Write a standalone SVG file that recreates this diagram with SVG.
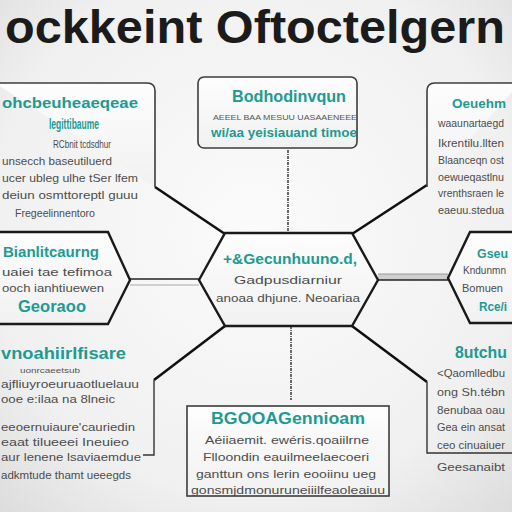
<svg xmlns="http://www.w3.org/2000/svg" width="512" height="512" viewBox="0 0 512 512">
<defs>
<radialGradient id="bg" cx="50%" cy="45%" r="75%">
<stop offset="0" stop-color="#fbfbfb"/>
<stop offset="0.7" stop-color="#f0f0f0"/>
<stop offset="1" stop-color="#dcdcdc"/>
</radialGradient>
<linearGradient id="boxfill" x1="0" y1="0" x2="0" y2="1">
<stop offset="0" stop-color="#fdfdfd"/>
<stop offset="1" stop-color="#f1f1f1"/>
</linearGradient>
</defs>
<style>
.title{font-family:"Liberation Sans",Arial,sans-serif;font-weight:bold;font-size:46px;fill:#1b1b1b}
.h{font-family:"Liberation Sans",Arial,sans-serif;font-weight:bold;fill:#1f9a93}
.b{font-family:"Liberation Sans",Arial,sans-serif;fill:#4d4d4d;font-size:11px}
.s{font-family:"Liberation Sans",Arial,sans-serif;fill:#555;font-size:8px}
.box{fill:url(#boxfill);stroke:#3c3c3c;stroke-width:1.6}
.hex{fill:url(#boxfill);stroke:#1a1a1a;stroke-width:2.4;stroke-linejoin:miter}
.edge{fill:none;stroke:#111;stroke-width:2.6}
.thin{fill:none;stroke:#333;stroke-width:1.4}
</style>
<rect width="512" height="512" fill="url(#bg)"/>
<text class="title" x="5" y="43" textLength="500" lengthAdjust="spacingAndGlyphs">ockkeint Oftoctelgern</text>

<g id="connectors">
<line class="edge" x1="155" y1="187" x2="225" y2="234"/>
<line class="edge" x1="427" y1="185" x2="352" y2="234"/>
<line class="edge" x1="225" y1="326" x2="154" y2="380"/>
<line class="edge" x1="352" y1="326" x2="427" y2="382"/>
<line x1="288" y1="150" x2="288" y2="232" stroke="#444" stroke-width="1.6" stroke-dasharray="3 1 1 1"/>
<line x1="291" y1="326" x2="291" y2="400" stroke="#444" stroke-width="1.6" stroke-dasharray="3 1 1 1"/>
<line x1="130" y1="279" x2="199" y2="279" stroke="#222" stroke-width="1.6"/>
<line x1="130" y1="285" x2="199" y2="285" stroke="#aaa" stroke-width="1"/>
<rect x="378" y="274" width="70" height="6" fill="#cfcfcf"/>
<line x1="378" y1="274" x2="448" y2="274" stroke="#888" stroke-width="0.8"/>
<line x1="378" y1="280" x2="448" y2="280" stroke="#222" stroke-width="1.6"/>
</g>

<g id="node-top-left">
<path class="box" d="M-5 83 H147 Q155 83 155 91 V187"/>
<text class="h" x="70" y="108" font-size="14" text-anchor="middle" textLength="136" lengthAdjust="spacingAndGlyphs">ohcbeuheaeqeae</text>
<text class="h" x="74" y="129" font-size="14" text-anchor="middle" textLength="50" lengthAdjust="spacingAndGlyphs">legittibaume</text>
<text class="b" x="82" y="148" text-anchor="middle" textLength="58" lengthAdjust="spacingAndGlyphs">RCbnit tcdsdhur</text>
<text class="b" x="57" y="165" text-anchor="middle" textLength="110" lengthAdjust="spacingAndGlyphs">unsecch baseutiluerd</text>
<text class="b" x="70" y="182" text-anchor="middle" textLength="136" lengthAdjust="spacingAndGlyphs">ucer ubleg ulhe tSer lfem</text>
<text class="b" x="70" y="199" text-anchor="middle" textLength="136" lengthAdjust="spacingAndGlyphs">deiun osmttoreptl guuu</text>
<text class="b" x="55" y="217" text-anchor="middle" textLength="80" lengthAdjust="spacingAndGlyphs">Fregeelinnentoro</text>
</g>

<g id="node-top-center">
<rect class="box" x="198" y="77" width="159" height="71" rx="6"/>
<text class="h" x="289" y="102" font-size="17" text-anchor="middle" textLength="114" lengthAdjust="spacingAndGlyphs">Bodhodinvqun</text>
<text class="s" x="285" y="120" text-anchor="middle" textLength="144" lengthAdjust="spacingAndGlyphs">AEEEL BAA MESUU UASAAENEEE</text>
<text class="h" x="284" y="137" font-size="13" text-anchor="middle" textLength="146" lengthAdjust="spacingAndGlyphs">wi/aa yeisiauand timoe</text>
</g>

<g id="node-top-right">
<path class="box" d="M427 187 V91 Q427 83 435 83 H520"/>
<text class="h" x="452" y="108" font-size="13.5" textLength="54" lengthAdjust="spacingAndGlyphs">Oeuehm</text>
<text class="b" x="438" y="127" font-size="10" textLength="66" lengthAdjust="spacingAndGlyphs">waaunartaegd</text>
<text class="b" x="438" y="147" font-size="10" textLength="66" lengthAdjust="spacingAndGlyphs">Ikrentilu.llten</text>
<text class="b" x="438" y="164" font-size="10" textLength="66" lengthAdjust="spacingAndGlyphs">Blaanceqn ost</text>
<text class="b" x="438" y="181" font-size="10" textLength="66" lengthAdjust="spacingAndGlyphs">oewueqastlnu</text>
<text class="b" x="438" y="197" font-size="10" textLength="66" lengthAdjust="spacingAndGlyphs">vrenthsraen le</text>
<text class="b" x="438" y="214" font-size="10" textLength="66" lengthAdjust="spacingAndGlyphs">eaeuu.stedua</text>
</g>

<g id="node-left">
<polygon class="hex" points="-10,232 108,232 130,280 108,324 -10,324"/>
<text class="h" x="51" y="257" font-size="14" text-anchor="middle" textLength="96" lengthAdjust="spacingAndGlyphs">Bianlitcaurng</text>
<text class="b" x="57" y="276" text-anchor="middle" textLength="110" lengthAdjust="spacingAndGlyphs">uaiei tae tefimoa</text>
<text class="b" x="53" y="292" text-anchor="middle" textLength="102" lengthAdjust="spacingAndGlyphs">ooch ianhtiuewen</text>
<text class="h" x="52" y="312" font-size="16" text-anchor="middle" textLength="68" lengthAdjust="spacingAndGlyphs">Georaoo</text>
</g>

<g id="node-center">
<polygon class="hex" points="199,280 225,233 352,233 378,280 352,326 225,326"/>
<text class="h" x="290" y="264" font-size="15" text-anchor="middle" textLength="134" lengthAdjust="spacingAndGlyphs">+&amp;Gecunhuuno.d,</text>
<text class="b" x="288" y="284" text-anchor="middle" textLength="108" lengthAdjust="spacingAndGlyphs">Gadpusdiarniur</text>
<text class="b" x="288" y="302" text-anchor="middle" textLength="144" lengthAdjust="spacingAndGlyphs">anoaa dhjune. Neoariaa</text>
</g>

<g id="node-right">
<polygon class="hex" points="448,278 470,232 520,232 520,323 470,323"/>
<text class="h" x="477" y="258" font-size="13" textLength="31" lengthAdjust="spacingAndGlyphs">Gseu</text>
<text class="b" x="463" y="274" font-size="10" textLength="43" lengthAdjust="spacingAndGlyphs">Kndunmn</text>
<text class="b" x="462" y="292" textLength="41" lengthAdjust="spacingAndGlyphs">Bomuen</text>
<text class="h" x="479" y="311" font-size="12" textLength="28" lengthAdjust="spacingAndGlyphs">Rce/i</text>
</g>

<g id="node-bottom-left">
<path class="thin" d="M154 380 V455 H143"/>
<text class="h" x="1" y="359" font-size="16" textLength="125" lengthAdjust="spacingAndGlyphs">vnoahiirlfisare</text>
<text class="s" x="20" y="373" textLength="60" lengthAdjust="spacingAndGlyphs">uonrcaeetsub</text>
<text class="b" x="1" y="388" textLength="138" lengthAdjust="spacingAndGlyphs">ajfliuyroeuruaotluelauu</text>
<text class="b" x="1" y="403" textLength="114" lengthAdjust="spacingAndGlyphs">ooe e:ilaa na 8lneic</text>
<text class="b" x="1" y="431" textLength="134" lengthAdjust="spacingAndGlyphs">eeoernuiaure'cauriedin</text>
<text class="b" x="1" y="446" textLength="128" lengthAdjust="spacingAndGlyphs">eaat  tilueeei Ineuieo</text>
<text class="b" x="1" y="461" textLength="140" lengthAdjust="spacingAndGlyphs">aur lenene lsaviaemdue</text>
<text class="b" x="1" y="479" textLength="130" lengthAdjust="spacingAndGlyphs">adkmtude thamt ueeegds</text>
</g>

<g id="node-bottom-center">
<rect class="box" x="187" y="406" width="202" height="90"/>
<text class="h" x="288" y="424" font-size="17" text-anchor="middle" textLength="154" lengthAdjust="spacingAndGlyphs">BGOOAGennioam</text>
<text class="b" x="287" y="444" text-anchor="middle" textLength="164" lengthAdjust="spacingAndGlyphs">Aéiiaemit. ewéris.qoaiilrne</text>
<text class="b" x="286" y="461" text-anchor="middle" textLength="166" lengthAdjust="spacingAndGlyphs">Flloondin eauilmeelaecoeri</text>
<text class="b" x="286" y="478" text-anchor="middle" textLength="180" lengthAdjust="spacingAndGlyphs">ganttun ons lerin eooiinu ueg</text>
<text class="b" x="288" y="494" text-anchor="middle" textLength="194" lengthAdjust="spacingAndGlyphs">gonsmjdmonuruneiiilfeaoleaiuu</text>
</g>

<g id="node-bottom-right">
<path class="thin" d="M427 382 V453 H520"/>
<text class="h" x="455" y="358" font-size="16" textLength="52" lengthAdjust="spacingAndGlyphs">8utchu</text>
<text class="b" x="437" y="377" textLength="68" lengthAdjust="spacingAndGlyphs">&lt;Qaomlledbu</text>
<text class="b" x="437" y="396" textLength="68" lengthAdjust="spacingAndGlyphs">ong Sh.tébn</text>
<text class="b" x="437" y="414" textLength="68" lengthAdjust="spacingAndGlyphs">8enubaa oau</text>
<text class="b" x="437" y="431" textLength="68" lengthAdjust="spacingAndGlyphs">Gea ein ansat</text>
<text class="b" x="437" y="449" textLength="68" lengthAdjust="spacingAndGlyphs">ceo cinuaiuer</text>
<text class="b" x="437" y="471" textLength="68" lengthAdjust="spacingAndGlyphs">Geesanaibt</text>
</g>
</svg>
